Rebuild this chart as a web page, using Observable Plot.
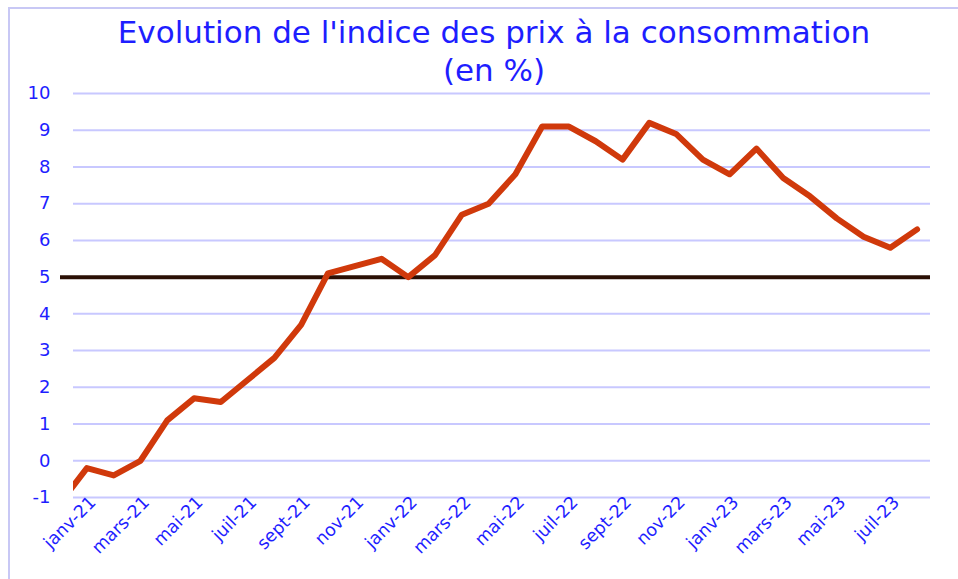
<!DOCTYPE html>
<html><head><meta charset="utf-8">
<script src="https://cdn.jsdelivr.net/npm/d3@7"></script>
<script src="https://cdn.jsdelivr.net/npm/@observablehq/plot@0.6"></script>
<style>
body{margin:0;background:#fff;}
#wrap{position:relative;width:958px;height:579px;overflow:hidden;font-family:"DejaVu Sans",sans-serif;}
#frame{position:absolute;left:8px;top:7px;width:980px;height:600px;border-top:2px solid #c8c8f5;border-left:2px solid #c8c8f5;}
#chart{position:absolute;left:0;top:0;}
.t{position:absolute;left:0;width:988px;text-align:center;color:#1e1eff;font-family:"DejaVu Sans",sans-serif;font-size:31px;line-height:39px;height:39px;white-space:nowrap;}
</style></head><body>
<div id="wrap"><div id="frame"></div><div id="chart"></div>
<div class="t" style="top:13px">Evolution de l'indice des prix à la consommation</div>
<div class="t" style="top:51px">(en %)</div></div>
<script>
// Months (déc-20 only feeds the clipped left edge of the line)
const mois = ["déc-20","janv-21","févr-21","mars-21","avr-21","mai-21","juin-21","juil-21","août-21","sept-21","oct-21","nov-21","déc-21",
  "janv-22","févr-22","mars-22","avr-22","mai-22","juin-22","juil-22","août-22","sept-22","oct-22","nov-22","déc-22",
  "janv-23","févr-23","mars-23","avr-23","mai-23","juin-23","juil-23","août-23"];
const valeurs = [-1.15,-0.2,-0.4,0.0,1.1,1.7,1.6,2.2,2.8,3.7,5.1,5.3,5.5,
  5.0,5.6,6.7,7.0,7.8,9.1,9.1,8.7,8.2,9.2,8.9,8.2,
  7.8,8.5,7.7,7.2,6.6,6.1,5.8,6.3];
const yTicks = [-1,0,1,2,3,4,5,6,7,8,9,10];
const seuil = [5];

const data = mois.map((m, k) => ({i: k - 1, m, v: valeurs[k]}));
const labelData = data.filter(d => d.i >= 0 && d.i % 2 === 0);
const blue = "#1e1eff";

const chart = Plot.plot({
  width: 958, height: 579,
  marginLeft: 73, marginRight: 28, marginTop: 93, marginBottom: 82,
  style: {fontFamily: "DejaVu Sans", fontSize: "18px", background: "transparent", overflow: "visible"},
  x: {type: "linear", domain: [-0.5, 31.5], axis: null},
  y: {domain: [-1, 10], axis: null},
  marks: [
    Plot.ruleY(yTicks, {stroke: "#c8c8ff", strokeWidth: 2}),
    Plot.text(yTicks, {frameAnchor: "left", y: d => d, text: d => String(d), textAnchor: "end", dx: -23, fill: blue, fontSize: 18}),
    Plot.text(labelData, {x: "i", y: () => -1, text: "m", rotate: -45, textAnchor: "end", lineAnchor: "middle", dx: 6, dy: 2, fill: blue, fontSize: 17.5}),
    Plot.ruleY(seuil, {stroke: "#2a0f05", strokeWidth: 4, insetLeft: -13}),
    Plot.line(data, {x: "i", y: "v", stroke: "#d0390b", strokeWidth: 6, strokeLinejoin: "round", clip: true})
  ]
});
document.getElementById("chart").appendChild(chart);
</script>
</body></html>
